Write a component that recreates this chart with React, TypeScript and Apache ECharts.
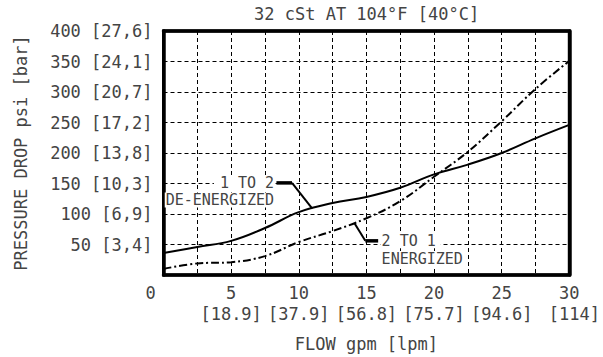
import React, { useEffect, useRef } from 'react';
import * as echarts from 'echarts';

const flowGpm = [0, 2.5, 5, 7.5, 10, 12.5, 15, 17.5, 20, 22.5, 25, 27.5, 30];
const deEnergizedPsi = [36, 46, 56, 77, 103, 118, 128, 143, 165, 181, 200, 224, 246];
const energizedPsi = [10, 19, 21, 31, 54, 72, 93, 121, 161, 202, 252, 305, 351];
const xTickGpm = [5, 10, 15, 20, 25, 30];
const xTickLpm = ['[18.9]', '[37.9]', '[56.8]', '[75.7]', '[94.6]', ' [114]'];
const yTickPsi = [50, 100, 150, 200, 250, 300, 350, 400];
const yTickBar = ['[3,4]', '[6,9]', '[10,3]', '[13,8]', '[17,2]', '[20,7]', '[24,1]', '[27,6]'];

const FONT = 'DejaVu Sans Mono';
const TXT = '#444';

// annotation anchors in data coordinates (gpm, psi)
const ann1 = { textAt: [8.25, 151], text2At: [8.25, 123], barFrom: [8.35, 151], barTo: [9.5, 151], tip: [11.0, 109] };
const ann2 = { textAt: [16.05, 56], text2At: [16.05, 27], barFrom: [14.92, 56], barTo: [15.87, 56], tip: [14.12, 85] };

export default function App() {
  const ref = useRef<HTMLDivElement>(null);
  useEffect(() => {
    if (!ref.current) return;
    const chart = echarts.init(ref.current, null, { renderer: 'svg' });
    const frame = { show: true, lineStyle: { color: '#000', width: 3.5 } };
    chart.setOption({
      animation: false,
      backgroundColor: '#fff',
      title: {
        text: '32 cSt AT 104°F [40°C]',
        left: 254,
        top: 5,
        padding: 0,
        textStyle: { fontFamily: FONT, fontSize: 17, fontWeight: 'normal', color: TXT },
      },
      grid: {
        left: 163.5,
        top: 31,
        right: 29.5,
        bottom: 80,
        show: true,
        borderColor: '#000',
        borderWidth: 3,
        backgroundColor: 'transparent',
      },
      xAxis: [
        {
          type: 'value',
          min: 0,
          max: 30,
          interval: 2.5,
          name: 'FLOW gpm [lpm]',
          nameLocation: 'middle',
          nameGap: 60,
          nameTextStyle: { fontFamily: FONT, fontSize: 17, color: TXT },
          axisLine: { ...frame, onZero: false },
          axisTick: { show: false },
          splitLine: { show: true, showMinLine: false, showMaxLine: false, lineStyle: { color: '#000', width: 1, type: [4, 3] } },
          axisLabel: {
            margin: 7,
            fontFamily: FONT,
            fontSize: 17,
            lineHeight: 21,
            color: TXT,
            showMaxLabel: true,
            showMinLabel: true,
            formatter: (v: number) => {
              if (v === 0) return '{z|0}';
              const i = xTickGpm.indexOf(v);
              if (i < 0) return '';
              return `${v}\n${xTickLpm[i]}`;
            },
            rich: {
              z: { fontFamily: FONT, fontSize: 17, color: TXT, lineHeight: 21, padding: [0, 26, 0, 0] },
            },
          },
        },
        {
          type: 'value',
          position: 'top',
          min: 0,
          max: 30,
          interval: 2.5,
          axisLine: { ...frame, onZero: false },
          axisTick: { show: false },
          axisLabel: { show: false },
          splitLine: { show: false },
        },
      ],
      yAxis: [
        {
          type: 'value',
          min: 0,
          max: 400,
          interval: 50,
          name: 'PRESSURE DROP psi [bar]',
          nameLocation: 'middle',
          nameGap: 134,
          nameTextStyle: { fontFamily: FONT, fontSize: 17, color: TXT },
          axisLine: { ...frame, onZero: false },
          axisTick: { show: false },
          splitLine: { show: true, showMinLine: false, showMaxLine: false, lineStyle: { color: '#000', width: 1, type: [4, 3] } },
          axisLabel: {
            margin: 11,
            fontFamily: FONT,
            fontSize: 17,
            color: TXT,
            formatter: (v: number) => {
              const i = yTickPsi.indexOf(v);
              return i < 0 ? '' : `${v} ${yTickBar[i]}`;
            },
          },
        },
        {
          type: 'value',
          position: 'right',
          min: 0,
          max: 400,
          interval: 50,
          axisLine: { ...frame, onZero: false },
          axisTick: { show: false },
          axisLabel: { show: false },
          splitLine: { show: false },
        },
      ],
      series: [
        {
          name: '1 TO 2 DE-ENERGIZED',
          type: 'line',
          data: flowGpm.map((x, i) => [x, deEnergizedPsi[i]]),
          smooth: 0.4,
          showSymbol: false,
          lineStyle: { color: '#000', width: 2 },
        },
        {
          name: '2 TO 1 ENERGIZED',
          type: 'line',
          data: flowGpm.map((x, i) => [x, energizedPsi[i]]),
          smooth: 0.4,
          showSymbol: false,
          lineStyle: { color: '#000', width: 2, type: [8, 3, 2, 3] },
        },
      ],
    });

    const px = (p: number[]) => chart.convertToPixel({ gridIndex: 0 }, p) as number[];
    const txt = (p: number[], s: string, align: string, pad: number[]) => {
      const q = px(p);
      return {
        type: 'text',
        x: q[0],
        y: q[1],
        z: 10,
        style: {
          text: s,
          fill: TXT,
          font: `15px "${FONT}"`,
          textAlign: align,
          textVerticalAlign: 'middle',
          backgroundColor: '#fff',
          padding: pad,
        },
      };
    };
    const seg = (a: number[], b: number[], w: number) => {
      const p = px(a);
      const q = px(b);
      return {
        type: 'line',
        z: 11,
        shape: { x1: p[0], y1: p[1], x2: q[0], y2: q[1] },
        style: { stroke: '#000', lineWidth: w },
      };
    };
    chart.setOption({
      graphic: [
        txt(ann1.textAt, '1 TO 2', 'right', [0, 1, 0, 6]),
        txt(ann1.text2At, 'DE-ENERGIZED', 'right', [0, 1, 0, 1]),
        seg(ann1.barFrom, ann1.barTo, 3.5),
        seg(ann1.barTo, ann1.tip, 2),
        txt(ann2.textAt, '2 TO 1', 'left', [0, 5, 0, 1]),
        txt(ann2.text2At, 'ENERGIZED', 'left', [0, 5, 0, 1]),
        seg(ann2.barFrom, ann2.barTo, 3.5),
        seg(ann2.barFrom, ann2.tip, 2),
      ],
    });
    return () => chart.dispose();
  }, []);
  return <div ref={ref} style={{ position: 'fixed', left: 0, top: 0, width: 603, height: 357 }} />;
}
